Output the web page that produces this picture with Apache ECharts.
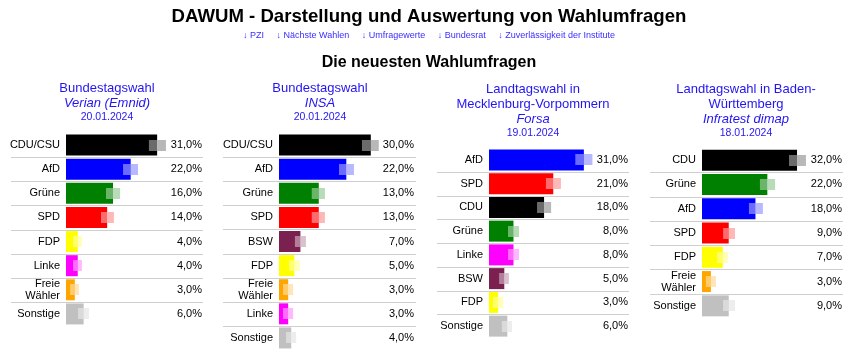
<!DOCTYPE html>
<html>
<head>
<meta charset="utf-8">
<title>DAWUM - Die neuesten Wahlumfragen</title>
<script src="https://cdn.jsdelivr.net/npm/echarts@6/dist/echarts.min.js"></script>
<style>
  html, body { margin: 0; padding: 0; background: #fff; }
  #chart { width: 858px; height: 354px; }
</style>
</head>
<body>
<div id="chart"></div>
<script>
;(function() {
  'use strict';

  // --- Daten -------------------------------------------------------------
  var parties1 = ['CDU/CSU', 'AfD', 'Grüne', 'SPD', 'FDP', 'Linke', 'Freie Wähler', 'Sonstige'];
  var values1  = [31, 22, 16, 14, 4, 4, 3, 6];
  var low1     = [28.2, 19.4, 13.6, 11.9, 2.4, 2.4, 1.4, 4.1];
  var high1    = [34.0, 24.5, 18.4, 16.3, 5.4, 5.4, 4.4, 7.8];

  var parties2 = ['CDU/CSU', 'AfD', 'Grüne', 'SPD', 'BSW', 'FDP', 'Freie Wähler', 'Linke', 'Sonstige'];
  var values2  = [30, 22, 13, 13, 7, 5, 3, 3, 4];
  var low2     = [27.1, 19.6, 10.7, 10.7, 5.2, 3.3, 1.3, 1.3, 2.3];
  var high2    = [32.6, 24.5, 15.0, 15.0, 8.8, 6.8, 4.6, 4.6, 5.6];

  var parties3 = ['AfD', 'SPD', 'CDU', 'Grüne', 'Linke', 'BSW', 'FDP', 'Sonstige'];
  var values3  = [31, 21, 18, 8, 8, 5, 3, 6];
  var low3     = [28.2, 18.6, 15.7, 6.2, 6.2, 3.3, 1.3, 4.2];
  var high3    = [33.8, 23.5, 20.3, 9.8, 9.8, 6.5, 4.6, 7.5];

  var parties4 = ['CDU', 'Grüne', 'AfD', 'SPD', 'FDP', 'Freie Wähler', 'Sonstige'];
  var values4  = [32, 22, 18, 9, 7, 3, 9];
  var low4     = [29.3, 19.5, 15.8, 7.1, 5.1, 1.3, 7.1];
  var high4    = [35.0, 24.6, 20.5, 11.1, 8.8, 4.7, 11.1];

  var headings  = [['Bundestagswahl'], ['Bundestagswahl'], ['Landtagswahl in', 'Mecklenburg-Vorpommern'], ['Landtagswahl in Baden-', 'Württemberg']];
  var institutes = ['Verian (Emnid)', 'INSA', 'Forsa', 'Infratest dimap'];
  var dates      = ['20.01.2024', '20.01.2024', '19.01.2024', '18.01.2024'];

  var partyColors = {
    'CDU/CSU': '#000000', 'CDU': '#000000', 'AfD': '#0000ff', 'Grüne': '#008000',
    'SPD': '#ff0000', 'FDP': '#ffff00', 'Linke': '#ff00ff', 'Freie Wähler': '#ffa500',
    'Sonstige': '#c0c0c0', 'BSW': '#7a2150'
  };

  var polls = [
    { parties: parties1, values: values1, low: low1, high: high1 },
    { parties: parties2, values: values2, low: low2, high: high2 },
    { parties: parties3, values: values3, low: low3, high: high3 },
    { parties: parties4, values: values4, low: low4, high: high4 }
  ];

  // --- Layout (Pixel) ----------------------------------------------------
  // sepL/sepR: Trennlinien, labelR: rechter Rand Parteiname, barX: Balkenstart,
  // valR: rechter Rand Prozentwert, px: Pixel pro Prozentpunkt
  var layout = [
    { cx: 107, titleTop: 81, top: 133, bottom: 326, sepL: 11,  sepR: 203, labelR: 60,  barX: 66,  valR: 202, px: 2.94 },
    { cx: 320, titleTop: 81, top: 133, bottom: 350, sepL: 223, sepR: 416, labelR: 273, barX: 279, valR: 414, px: 3.06 },
    { cx: 533, titleTop: 82, top: 148, bottom: 338, sepL: 437, sepR: 629, labelR: 483, barX: 489, valR: 628, px: 3.06 },
    { cx: 746, titleTop: 82, top: 148, bottom: 318, sepL: 650, sepR: 843, labelR: 696, barX: 702, valR: 842, px: 2.97 }
  ];

  var FONT = '"Liberation Sans", Arial, Helvetica, sans-serif';
  var TITLE_BLUE = '#2314f2';

  function mix(hex, t) {
    // hex mit Weiß mischen, t = Anteil Weiß
    var n = parseInt(hex.slice(1), 16);
    var r = (n >> 16) & 255, g = (n >> 8) & 255, b = n & 255;
    function m(c) { return Math.round(c + (255 - c) * t); }
    return 'rgb(' + m(r) + ',' + m(g) + ',' + m(b) + ')';
  }

  function fmtPct(v) { return v.toFixed(1).replace('.', ',') + '%'; }

  function makeRenderer(poll) {
    return function(params, api) {
      var i = params.dataIndex;
      var cat = api.value(0);
      var pLo = api.coord([api.value(1), cat]);
      var pHi = api.coord([api.value(2), cat]);
      var pV  = api.coord([api.value(3), cat]);
      var band = api.size([0, 1])[1];
      var cs = params.coordSys;
      var col = partyColors[poll.parties[i]];
      var h = 11;
      var y0 = Math.round(pV[1] - h / 2);
      var kids = [
        { type: 'rect', shape: { x: pLo[0], y: y0, width: pV[0] - pLo[0], height: h }, style: { fill: mix(col, 0.42) } },
        { type: 'rect', shape: { x: pV[0], y: y0, width: pHi[0] - pV[0], height: h }, style: { fill: mix(col, 0.72) } }
      ];
      if (i < poll.parties.length - 1) {
        var ly = Math.round(pV[1] + band / 2) + 0.5;
        kids.push({ type: 'line', shape: { x1: cs.x, y1: ly, x2: cs.x + cs.width, y2: ly }, style: { stroke: '#cfcfcf', lineWidth: 1 } });
      }
      return { type: 'group', children: kids };
    };
  }

  var titles = [
    { text: 'DAWUM - Darstellung und Auswertung von Wahlumfragen', left: 'center', top: 2,
      textStyle: { fontFamily: FONT, fontSize: 18.6, fontWeight: 'bold', color: '#000' } },
    { text: '↓ PZI     ↓ Nächste Wahlen     ↓ Umfragewerte     ↓ Bundesrat     ↓ Zuverlässigkeit der Institute',
      left: 'center', top: 26, textStyle: { fontFamily: FONT, fontSize: 9, fontWeight: 'normal', color: '#3a2cff' } },
    { text: 'Die neuesten Wahlumfragen', left: 'center', top: 50,
      textStyle: { fontFamily: FONT, fontSize: 16, fontWeight: 'bold', color: '#000' } }
  ];
  var grids = [], xAxes = [], yAxes = [], series = [];

  polls.forEach(function(poll, k) {
    var L = layout[k];
    var lines = headings[k].map(function(s) { return '{a|' + s + '}'; });
    lines.push('{b|' + institutes[k] + '}', '{c|' + dates[k] + '}');
    titles.push({
      text: lines.join('\n'), left: L.cx, top: L.titleTop, textAlign: 'center', padding: 0,
      textStyle: {
        fontFamily: FONT, fontWeight: 'normal',
        rich: {
          a: { fontFamily: FONT, fontSize: 13, fontWeight: 'normal', lineHeight: 15, color: TITLE_BLUE, align: 'center' },
          b: { fontFamily: FONT, fontSize: 13, fontWeight: 'normal', lineHeight: 15, fontStyle: 'italic', color: TITLE_BLUE, align: 'center' },
          c: { fontFamily: FONT, fontSize: 10.5, fontWeight: 'normal', lineHeight: 13, color: TITLE_BLUE, align: 'center' }
        }
      }
    });

    grids.push({ left: L.sepL, top: L.top, width: L.sepR - L.sepL, height: L.bottom - L.top, outerBoundsMode: 'none' });
    xAxes.push({ type: 'value', gridIndex: k, show: false,
      min: -(L.barX - L.sepL) / L.px, max: (L.sepR - L.barX) / L.px });
    yAxes.push({
      type: 'category', gridIndex: k, inverse: true, data: poll.parties,
      axisLine: { show: false }, axisTick: { show: false }, splitLine: { show: false },
      axisLabel: { inside: true, align: 'right', margin: L.labelR - L.sepL, fontFamily: FONT, fontSize: 11,
        lineHeight: 12, color: '#000', formatter: function(v) { return v.replace(' ', '\n'); } }
    });
    yAxes.push({
      type: 'category', gridIndex: k, inverse: true, position: 'right', data: poll.values.map(fmtPct),
      axisLine: { show: false }, axisTick: { show: false }, splitLine: { show: false },
      axisLabel: { inside: true, margin: L.sepR - L.valR, fontFamily: FONT, fontSize: 11, color: '#000' }
    });
    series.push({
      type: 'bar', xAxisIndex: k, yAxisIndex: 2 * k, barWidth: 21, silent: true,
      data: poll.values.map(function(v, i) { return { value: v, itemStyle: { color: partyColors[poll.parties[i]] } }; })
    });
    series.push({
      type: 'custom', xAxisIndex: k, yAxisIndex: 2 * k, z: 5, silent: true,
      renderItem: makeRenderer(poll),
      data: poll.values.map(function(v, i) { return [i, poll.low[i], poll.high[i], v]; })
    });
  });

  var chart = echarts.init(document.getElementById('chart'), null, { renderer: 'canvas' });
  chart.setOption({
    animation: false,
    backgroundColor: '#fff',
    title: titles,
    grid: grids,
    xAxis: xAxes,
    yAxis: yAxes,
    series: series
  });
})();
</script>
</body>
</html>
